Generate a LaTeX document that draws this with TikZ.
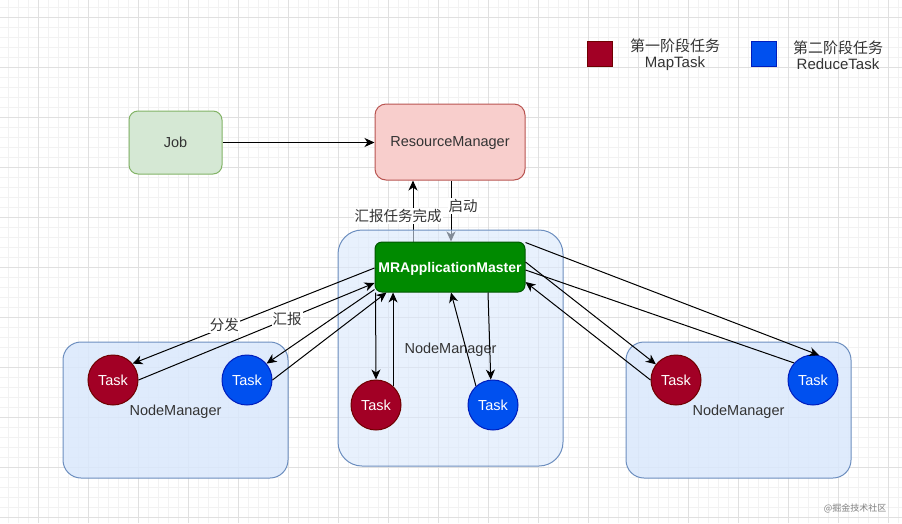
\documentclass[tikz,border=0pt]{standalone}
\usepackage{fontspec}
\setmainfont{Liberation Sans}
\newfontfamily\cjk{Noto Sans CJK SC}
\usetikzlibrary{arrows.meta,positioning}
\definecolor{gridminor}{HTML}{F2F2F2}
\definecolor{gridmajor}{HTML}{E0E0E0}
\definecolor{jobfill}{HTML}{D5E8D4}
\definecolor{jobline}{HTML}{82B366}
\definecolor{rmfill}{HTML}{F8CECC}
\definecolor{rmline}{HTML}{B85450}
\definecolor{nmfill}{HTML}{DAE8FC}
\definecolor{nmline}{HTML}{6C8EBF}
\definecolor{amfill}{HTML}{008A00}
\definecolor{amline}{HTML}{005700}
\definecolor{mapfill}{HTML}{A20025}
\definecolor{mapline}{HTML}{6F0000}
\definecolor{reducefill}{HTML}{0050EF}
\definecolor{reduceline}{HTML}{001DBC}
\definecolor{txt}{HTML}{333333}
\pgfdeclarelayer{grid}
\pgfdeclarelayer{under}
\pgfdeclarelayer{boxes}
\pgfsetlayers{grid,under,boxes,main}

\begin{document}
\begin{tikzpicture}[x=1pt,y=-1pt,
  every node/.style={font=\fontsize{14.5}{16}\selectfont, text=txt},
  panel/.style={draw, line width=1pt, rounded corners=9pt, text depth=0pt, inner sep=2pt},
  task/.style={circle, line width=1pt, minimum size=50pt, inner sep=0pt, text=white},
  maptask/.style={task, draw=mapline, fill=mapfill},
  reducetask/.style={task, draw=reduceline, fill=reducefill},
  link/.style={line width=1pt, -{Stealth[length=10pt,width=9pt,inset=3pt]}},
  lbl/.style={fill=white, inner sep=1pt}]
  \useasboundingbox (0,0) rectangle (902,523);

  % grid
  \begin{pgfonlayer}{grid}
    \fill[white] (0,0) rectangle (902,523);
    \foreach \gx in {8,18,...,898} \draw[gridminor, line width=0.8pt] (\gx,0) -- (\gx,523);
    \foreach \gy in {7,17,...,517} \draw[gridminor, line width=0.8pt] (0,\gy) -- (902,\gy);
    \foreach \gx in {38,88,...,888} \draw[gridmajor, line width=0.8pt] (\gx,0) -- (\gx,523);
    \foreach \gy in {17,67,...,517} \draw[gridmajor, line width=0.8pt] (0,\gy) -- (902,\gy);
  \end{pgfonlayer}

  % NodeManager containers
  \begin{pgfonlayer}{boxes}
    \node[panel, draw=nmline, fill=nmfill, fill opacity=0.85, text opacity=1, rounded corners=18pt,
      minimum width=225pt, minimum height=136pt] (nmL) at (175.5,410) {NodeManager};
    \node[panel, draw=nmline, fill=nmfill, fill opacity=0.6, text opacity=1, rounded corners=24pt,
      minimum width=225pt, minimum height=236pt] (nmC) at (450.5,348) {NodeManager};
    \node[panel, draw=nmline, fill=nmfill, fill opacity=0.85, text opacity=1, rounded corners=18pt,
      minimum width=225pt, minimum height=136pt] (nmR) at (738.5,410) {NodeManager};
  \end{pgfonlayer}

  % main nodes
  \node[panel, draw=jobline, fill=jobfill, minimum width=93pt, minimum height=63pt] (job) at (175.5,142.5) {Job};
  \node[panel, draw=rmline, fill=rmfill, rounded corners=11pt, minimum width=150pt, minimum height=76pt] (rm) at (450,142) {ResourceManager};
  \node[panel, draw=amline, fill=amfill, rounded corners=7pt, minimum width=150pt, minimum height=50pt, inner sep=0pt,
    text=white, font=\fontsize{14}{16}\selectfont\bfseries] (am) at (450,267) {MRApplicationMaster};

  % tasks
  \node[maptask] (mapL) at (113,380) {Task};
  \node[reducetask] (reduceL) at (247,380) {Task};
  \node[maptask] (mapC) at (376,405) {Task};
  \node[reducetask] (reduceC) at (493,405) {Task};
  \node[maptask] (mapR) at (676,380) {Task};
  \node[reducetask] (reduceR) at (813,380) {Task};

  % legend
  \node[draw=mapline, fill=mapfill, line width=1pt, minimum size=25pt, inner sep=0pt] (keyMap) at (600,54) {};
  \node[align=center, font=\fontsize{15}{16}\selectfont] (keyMapText) at (675,55) {{\cjk 第一阶段任务}\\MapTask};
  \node[draw=reduceline, fill=reducefill, line width=1pt, minimum size=25pt, inner sep=0pt] (keyReduce) at (763.5,54) {};
  \node[align=center, font=\fontsize{15}{16}\selectfont] (keyReduceText) at (838,55) {{\cjk 第二阶段任务}\\ReduceTask};
  \node[text=gray, font=\fontsize{9}{10}\cjk] (mark) at (855,508) {@掘金技术社区};

  % connectors
  \draw[link] (job.east) -- (job.east -| rm.west);
  \begin{pgfonlayer}{under}
    \draw[link] ([xshift=-37pt]am.north) -- node[lbl, pos=0.42, xshift=-15pt] {\cjk 汇报任务完成} ([xshift=-37pt]am.north |- rm.south);
    \draw[link] ([xshift=1pt]rm.south) -- node[lbl, pos=0.42, xshift=12pt] {\cjk 启动} ([xshift=1pt]rm.south |- am.north);
  \end{pgfonlayer}

  \draw[link] ([yshift=-1pt]am.west) -- node[lbl, pos=0.62, yshift=2pt] {\cjk 分发} (mapL.40);
  \draw[link] (mapL.east) -- node[lbl, pos=0.63] {\cjk 汇报} ([yshift=-16pt]am.west);
  \draw[link] ([yshift=3pt]am.south west) -- (reduceL.40);
  \draw[link] (reduceL.east) -- ([xshift=12pt]am.south west);

  \draw[link] ([xshift=1pt]am.south west) -- (mapC.north);
  \draw[link] (mapC.48) -- (mapC.48 |- am.south);
  \draw[link] (reduceC.132) -- ([xshift=1pt]am.south);
  \draw[link] ([xshift=38pt]am.south) -- (reduceC.95);

  \draw[link] ([yshift=-1pt]am.north east) -- (reduceR.76);
  \draw[link] ([yshift=5pt]am.east) -- (mapR.142);
  \draw[line width=1pt] (reduceR.138) -- ([yshift=-3pt]am.east);
  \draw[link] (mapR.west) -- ([yshift=-15pt]am.east);
\end{tikzpicture}
\end{document}
